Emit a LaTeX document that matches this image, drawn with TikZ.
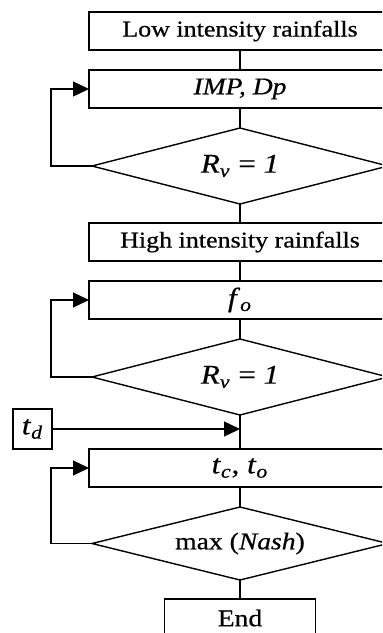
\documentclass[tikz,border=0pt]{standalone}
\usepackage{fontspec}
\setmainfont[FakeStretch=1.15, FakeBold=0.6]{Liberation Serif}
\usetikzlibrary{arrows.meta,positioning,shapes.geometric}

\begin{document}
\begin{tikzpicture}[
    line width=0.7pt,
    outer sep=0pt,
    box/.style={draw, minimum width=151pt, minimum height=19pt, inner sep=0pt,
                font=\fontsize{11.3}{13}\selectfont},
    test/.style={draw, diamond, shape aspect=3.9, minimum width=148pt,
                 minimum height=38pt, inner sep=0pt,
                 font=\fontsize{13.5}{15}\selectfont},
    arr/.style={-{Triangle[length=8pt, width=7.5pt]}},
    node distance=10pt,
  ]
  \useasboundingbox (0,0) rectangle (191pt,-316.5pt);
  \clip (0,0) rectangle (191pt,-316.5pt);

  \node[box] (low) at (120pt,-15.5pt) {Low intensity rainfalls};
  \node[box, below=of low, font=\fontsize{12}{14}\selectfont] (imp)
        {\textit{IMP, Dp}};
  \node[test, below=of imp] (rv1)
        {\textit{R}\textsubscript{\textit{v}} = \textit{1}};
  \node[box, below=9.5pt of rv1] (high) {High intensity rainfalls};
  \node[box, below=of high, font=\fontsize{13.5}{15}\selectfont] (fo)
        {\textit{f}\textsubscript{\textit{o}}};
  \node[test, below=of fo] (rv2)
        {\textit{R}\textsubscript{\textit{v}} = \textit{1}};
  \node[box, below=17pt of rv2, font=\fontsize{13.5}{15}\selectfont] (tc)
        {\textit{t}\textsubscript{\textit{c}}, \textit{t}\textsubscript{\textit{o}}};
  \node[test, below=of tc, minimum height=36.5pt,
        font=\fontsize{12}{14}\selectfont] (nash) {max (\textit{Nash})};
  \node[box, below=9.5pt of nash, minimum width=75.5pt,
        font=\fontsize{12}{14}\selectfont] (end) {End};
  \node[draw, minimum width=19.5pt, minimum height=20pt, inner sep=0pt,
        font=\fontsize{13.5}{15}\selectfont] (td) at (16.25pt,-214.5pt)
        {\textit{t}\textsubscript{\textit{d}}};

  \draw (low) -- (imp);
  \draw (imp) -- (rv1);
  \draw (rv1) -- (high);
  \draw (high) -- (fo);
  \draw (fo) -- (rv2);
  \draw (rv2) -- (tc);
  \draw (tc) -- (nash);
  \draw (nash) -- (end);

  \draw[arr] (rv1.west) -- ++(-20.5pt,0) |- (imp.west);
  \draw[arr] (rv2.west) -- ++(-20.5pt,0) |- (fo.west);
  \draw[arr] (nash.west) -- ++(-20.5pt,0) |- (tc.west);
  \draw[arr] (td.east) -- (td.east -| rv2.south);
\end{tikzpicture}
\end{document}
